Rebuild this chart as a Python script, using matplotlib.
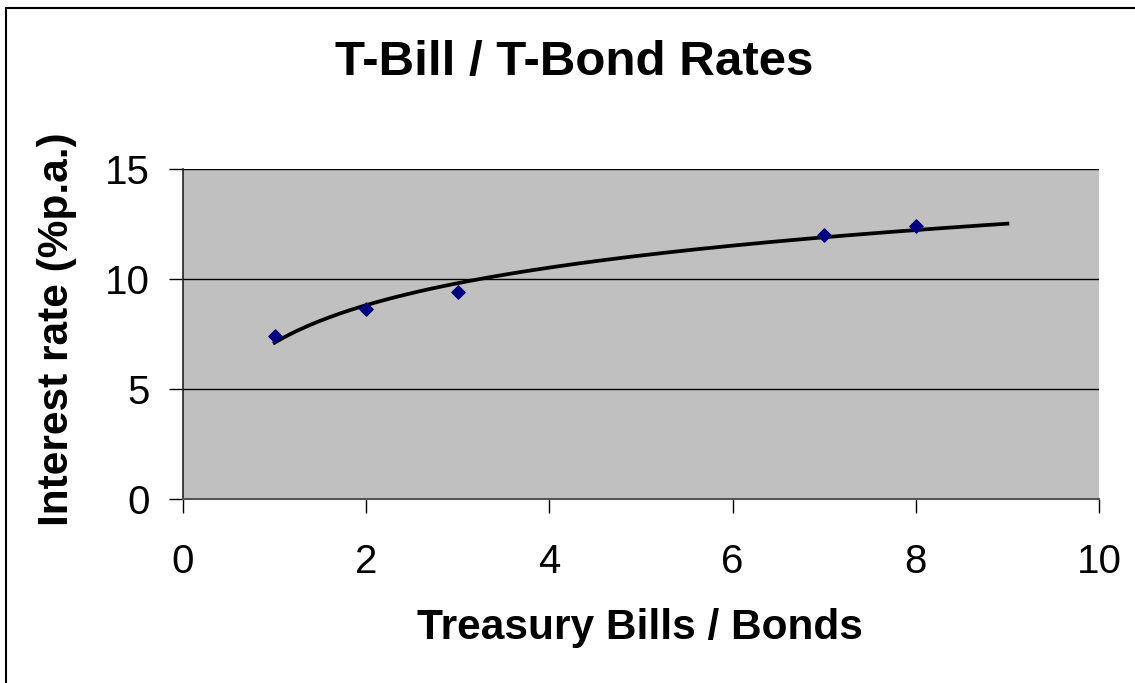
import numpy as np
import matplotlib
matplotlib.use("Agg")
import matplotlib.pyplot as plt
from matplotlib.patches import Rectangle

plt.rcParams['font.family'] = ['Liberation Sans', 'DejaVu Sans']

# Data
maturity = [1, 2, 3, 7, 8]
rates = [7.4, 8.65, 9.4, 12.0, 12.4]
x_ticks = [0, 2, 4, 6, 8, 10]
y_ticks = [0, 5, 10, 15]
title = "T-Bill / T-Bond Rates"
xlabel = "Treasury Bills / Bonds"
ylabel = "Interest rate (%p.a.)"

fig = plt.figure(figsize=(11.35, 6.83), dpi=100)
fig.patch.set_facecolor('white')
# outer chart border (cut off at right and bottom)
fig.add_artist(Rectangle((6 / 1135, -0.05), 1.2, 1 - 8.5 / 683 + 0.05,
                         transform=fig.transFigure, fill=False,
                         edgecolor='black', linewidth=1.5))

L, R = 183 / 1135, 1099 / 1135
T, B = 1 - 169 / 683, 1 - 499 / 683
ax = fig.add_axes([L, B, R - L, T - B])
ax.set_facecolor('#c0c0c0')

# logarithmic trend line fitted to data
b, a = np.polyfit(np.log(maturity), rates, 1)
xt = np.linspace(1, 9, 200)
ax.plot(xt, a + b * np.log(xt), color='black', linewidth=2.7, zorder=3)
ax.scatter(maturity, rates, marker='D', s=45, color='#000080', zorder=4)

ax.set_xlim(0, 10)
ax.set_ylim(0, 15)
ax.set_xticks(x_ticks)
ax.set_yticks(y_ticks)
ax.yaxis.grid(True, color='black', linewidth=1)
ax.set_axisbelow(True)
for s in ['top', 'right']:
    ax.spines[s].set_visible(False)
ax.spines['left'].set_color('#222222')
ax.spines['bottom'].set_color('#555555')
ax.spines['left'].set_linewidth(1.2)
ax.spines['bottom'].set_linewidth(1.5)
ax.tick_params(axis='both', direction='out', length=10, width=1, labelsize=29)
ax.tick_params(axis='x', pad=22)
ax.tick_params(axis='y', pad=14)

fig.text(574 / 1135, 1 - 62 / 683, title, ha='center', va='center',
         fontsize=35.5, fontweight='bold')
fig.text(640 / 1135, 1 - 628 / 683, xlabel, ha='center', va='center',
         fontsize=30.5, fontweight='bold')
fig.text(57 / 1135, 1 - 329 / 683, ylabel, ha='center', va='center',
         fontsize=30.5, fontweight='bold', rotation=90)

fig.savefig('out.png', dpi=100, facecolor='white')
